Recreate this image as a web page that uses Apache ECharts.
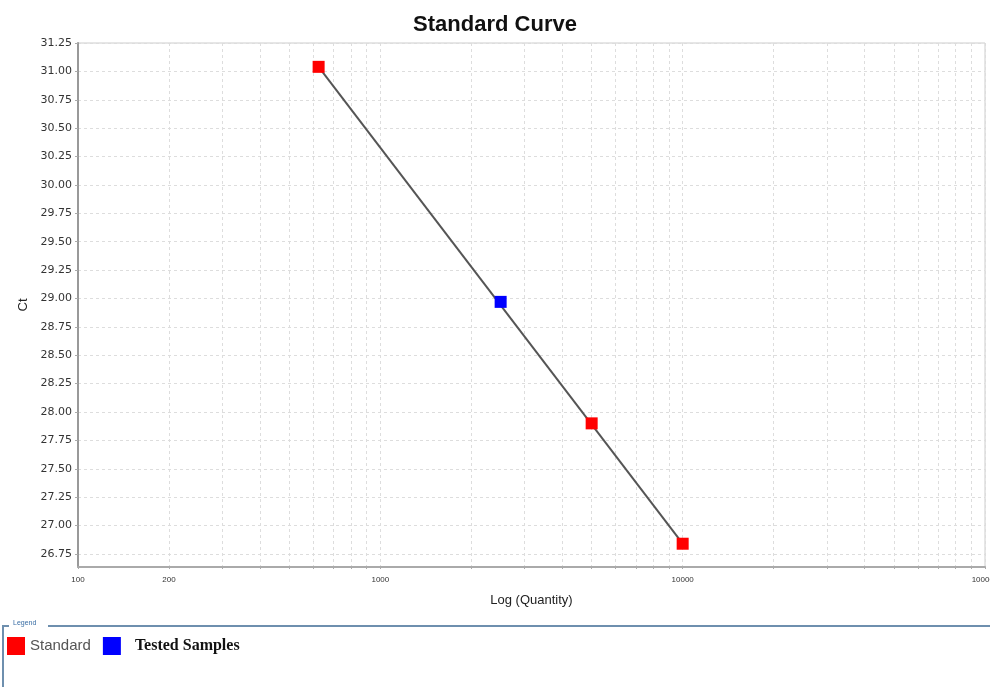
<!DOCTYPE html>
<html>
<head>
<meta charset="utf-8">
<script src="https://cdn.jsdelivr.net/npm/echarts@6/dist/echarts.min.js"></script>
<style>html,body{margin:0;padding:0;background:#fff}#c{width:990px;height:687px}</style>
</head>
<body>
<div id="c"></div>
<script>
const standardQty = [625, 5000, 10000];
const standardCt = [31.04, 27.90, 26.84];
const sampleQty = [2500];
const sampleCt = [28.97];
const fitQty = [625, 10000];
const fitCt = [31.04, 26.84];
const yTicks = [26.75, 27.00, 27.25, 27.50, 27.75, 28.00, 28.25, 28.50, 28.75, 29.00, 29.25, 29.50, 29.75, 30.00, 30.25, 30.50, 30.75, 31.00, 31.25];
const xLabelTicks = [100, 200, 1000, 10000, 100000];
const xGridTicks = [100,200,300,400,500,600,700,800,900,1000,2000,3000,4000,5000,6000,7000,8000,9000,10000,20000,30000,40000,50000,60000,70000,80000,90000,100000];

const chart = echarts.init(document.getElementById('c'), null, {renderer: 'canvas'});
const option = {
  backgroundColor: '#fff',
  animation: false,
  title: {
    text: 'Standard Curve', left: 'center', top: 9,
    textStyle: {fontFamily: 'Liberation Sans', fontWeight: 'bold', fontSize: 22, color: '#111'}
  },
  grid: {left: 78, right: 5, top: 43, bottom: 120, show: true, borderColor: '#ccc', borderWidth: 1, outerBoundsMode: 'none', containLabel: false},
  legend: {
    left: 2, top: 632, itemWidth: 18, itemHeight: 18, itemGap: 12, icon: 'rect',
    data: [
      {name: 'Standard', textStyle: {fontFamily: 'Liberation Sans', fontSize: 15, color: '#555'}},
      {name: 'Tested Samples', textStyle: {fontFamily: 'Liberation Serif', fontWeight: 'bold', fontSize: 16, color: '#111', padding: [0,0,0,9]}}
    ]
  },
  xAxis: {
    type: 'log', logBase: 10, min: 100, max: 100000,
    name: 'Log (Quantity)', nameLocation: 'middle', nameGap: 27,
    nameTextStyle: {fontFamily: 'Liberation Sans', fontSize: 13, color: '#222'},
    axisLine: {show: true, lineStyle: {color: '#aaa', width: 2}},
    axisTick: {show: true, length: 2, customValues: xGridTicks, lineStyle: {color: '#aaa'}},
    axisLabel: {customValues: xLabelTicks, fontSize: 8, color: '#333', fontFamily: 'Liberation Sans', margin: 9,
      formatter: v => String(Math.round(v))},
    splitLine: {show: true, lineStyle: {color: '#ddd', type: [3, 3], width: 1}},
    minorTick: {show: false}
  },
  yAxis: {
    type: 'value', min: 26.635, max: 31.25,
    name: 'Ct', nameLocation: 'middle', nameGap: 48, nameRotate: 90,
    nameTextStyle: {fontFamily: 'Liberation Sans', fontSize: 13, color: '#222'},
    axisLine: {show: true, lineStyle: {color: '#999', width: 2}},
    axisTick: {show: true, length: 3, customValues: yTicks, lineStyle: {color: '#aaa'}},
    axisLabel: {customValues: yTicks, fontSize: 11, color: '#333', fontFamily: 'DejaVu Sans', margin: 6,
      formatter: v => v.toFixed(2)},
    splitLine: {show: true, lineStyle: {color: '#ddd', type: [3, 3], width: 1}}
  },
  graphic: [
    {type: 'polyline', silent: true, shape: {points: [[3, 687], [3, 626], [9, 626]]}, style: {stroke: '#6e8fae', lineWidth: 2, fill: null}},
    {type: 'line', silent: true, shape: {x1: 48, y1: 626, x2: 990, y2: 626}, style: {stroke: '#6e8fae', lineWidth: 2}},
    {type: 'text', silent: true, left: 13, top: 620, style: {text: 'Legend', font: '7px "Liberation Sans"', fill: '#3a6ea5'}}
  ],
  series: [
    {
      name: 'Fit', type: 'line', data: fitQty.map((q, i) => [q, fitCt[i]]),
      symbol: 'none', lineStyle: {color: '#555', width: 2}, z: 1, silent: true
    },
    {
      name: 'Standard', type: 'scatter', data: standardQty.map((q, i) => [q, standardCt[i]]),
      symbol: 'rect', symbolSize: 12, itemStyle: {color: '#ff0000', opacity: 1}, z: 3
    },
    {
      name: 'Tested Samples', type: 'scatter', data: sampleQty.map((q, i) => [q, sampleCt[i]]),
      symbol: 'rect', symbolSize: 12, itemStyle: {color: '#0000ff', opacity: 1}, z: 3
    }
  ]
};
chart.setOption(option);
</script>
</body>
</html>
